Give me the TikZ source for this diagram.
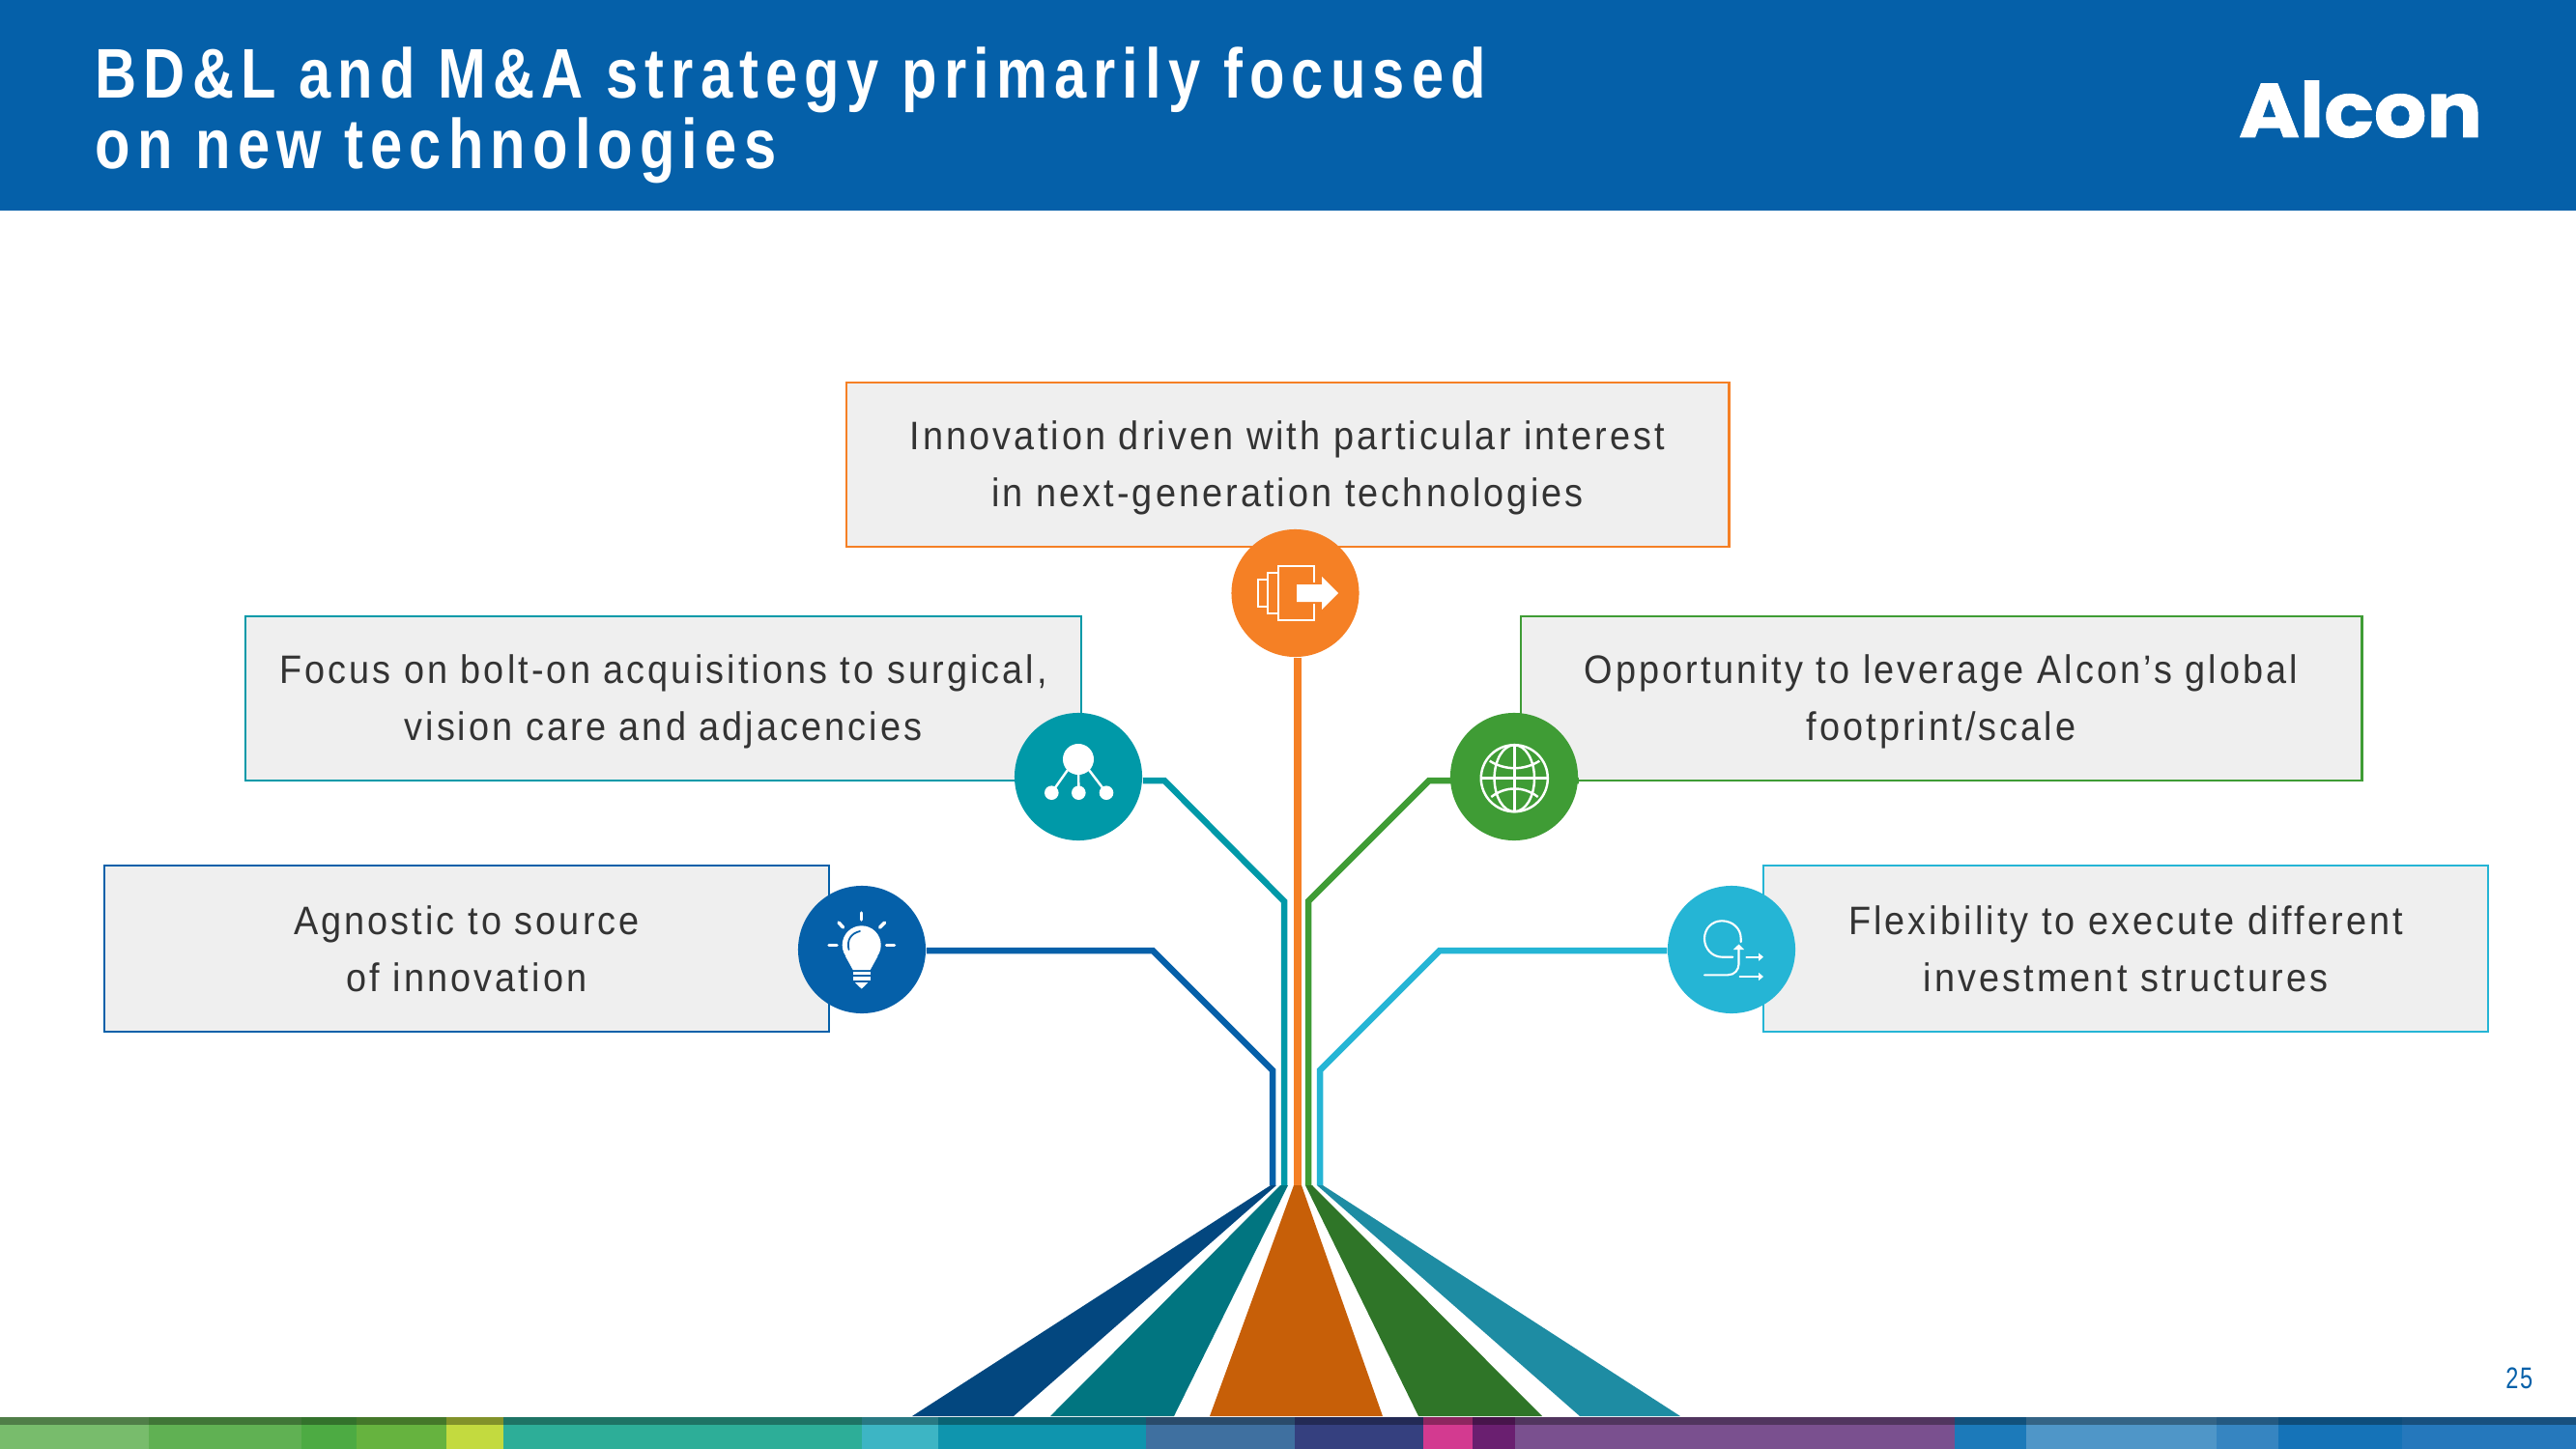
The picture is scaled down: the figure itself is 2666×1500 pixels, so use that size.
\documentclass[tikz,border=0pt]{standalone}
\usepackage{fontspec}
\usepackage{xcolor}
\usetikzlibrary{arrows.meta}
\setmainfont{Liberation Sans}
\newfontfamily\titlefont[LetterSpace=9.8,FakeStretch=0.82]{Liberation Sans}
\newfontfamily\bodyfont[LetterSpace=7.5,FakeStretch=0.92]{Liberation Sans}
\newfontfamily\logofont[FakeStretch=1.08,FakeBold=1]{Poppins}
\newfontfamily\pagefont[LetterSpace=6,FakeStretch=0.76]{Liberation Sans}
\definecolor{AlconBlue}{HTML}{0560A9}
\definecolor{AlconTeal}{HTML}{0099A8}
\definecolor{AlconOrange}{HTML}{F58025}
\definecolor{AlconGreen}{HTML}{3F9C35}
\definecolor{AlconCyan}{HTML}{25B5D5}
\definecolor{FanBlue}{HTML}{03477F}
\definecolor{FanTeal}{HTML}{017580}
\definecolor{FanOrange}{HTML}{C75F08}
\definecolor{FanGreen}{HTML}{2F7528}
\definecolor{FanCyan}{HTML}{1E8CA3}
\definecolor{BoxGrey}{HTML}{EFEFEF}
\definecolor{BodyText}{HTML}{333333}
\definecolor{StripA}{HTML}{78BC6C}
\definecolor{StripB}{HTML}{60B153}
\definecolor{StripC}{HTML}{4DAB43}
\definecolor{StripD}{HTML}{66B33F}
\definecolor{StripE}{HTML}{C3DA3F}
\definecolor{StripF}{HTML}{2DAE98}
\definecolor{StripG}{HTML}{3DB5C4}
\definecolor{StripH}{HTML}{0F95AE}
\definecolor{StripI}{HTML}{3F70A0}
\definecolor{StripJ}{HTML}{35407F}
\definecolor{StripK}{HTML}{D33A90}
\definecolor{StripL}{HTML}{6A1F70}
\definecolor{StripM}{HTML}{7A508F}
\definecolor{StripN}{HTML}{1C7ABA}
\definecolor{StripO}{HTML}{4F96C8}
\definecolor{StripP}{HTML}{3685C1}
\definecolor{StripQ}{HTML}{1573B8}
\definecolor{StripR}{HTML}{2578BC}
\newcommand{\lineup}{\rule{0pt}{10.2pt}}
\tikzset{
  infobox/.style={draw,line width=0.7pt,fill=BoxGrey,text=BodyText,align=center,inner sep=0pt,
    font=\bodyfont\fontsize{11.7}{16.8}\selectfont},
  iconcirc/.style={circle,minimum size=1.32cm,inner sep=0pt},
  branch/.style={line width=1.85pt},
  iconline/.style={white,line width=0.7pt},
  iconthin/.style={white,line width=0.6pt,line cap=round}
}
\begin{document}
\begin{tikzpicture}[x=0.01cm,y=-0.01cm]
\useasboundingbox (0,0) rectangle (2666,1500);
\fill[white] (0,0) rectangle (2666,1500);
% header
\fill[AlconBlue] (0,0) rectangle (2666,218);
\node[anchor=base west,inner sep=0pt,white,font=\titlefont\bfseries\fontsize{20.7}{20.8}\selectfont] (title) at (98,102) {BD\&L and M\&A strategy primarily focused};
\node[anchor=base west,inner sep=0pt,white,font=\titlefont\bfseries\fontsize{20.7}{20.8}\selectfont] (subtitle) at (98,175) {on new technologies};
\node[anchor=base,inner sep=0pt,white,font=\logofont\bfseries\fontsize{22.5}{24}\selectfont] (logo) at (2443,142) {Alcon};
% text boxes
\node[infobox,draw=AlconOrange,minimum width=9.13cm,minimum height=1.70cm] (boxtop) at (1332.5,481) {\lineup Innovation driven with particular interest\\in next-generation technologies};
\node[infobox,draw=AlconTeal,minimum width=8.65cm,minimum height=1.70cm] (boxfocus) at (686.5,723) {\lineup Focus on bolt-on acquisitions to surgical,\\vision care and adjacencies};
\node[infobox,draw=AlconBlue,minimum width=7.50cm,minimum height=1.72cm] (boxsource) at (483,982) {Agnostic to source\\of innovation};
\node[infobox,draw=AlconGreen,minimum width=8.70cm,minimum height=1.70cm] (boxglobal) at (2009,723) {\lineup Opportunity to leverage Alcon’s global\\footprint/scale};
\node[infobox,draw=AlconCyan,minimum width=7.50cm,minimum height=1.72cm] (boxflex) at (2200,982) {Flexibility to execute different\\investment structures};
% circles
\node[iconcirc,fill=AlconOrange] (circtop) at (1340.5,614) {};
\node[iconcirc,fill=AlconTeal] (circfocus) at (1116,804) {};
\node[iconcirc,fill=AlconBlue] (circsource) at (892,983) {};
\node[iconcirc,fill=AlconGreen] (circglobal) at (1567,804) {};
\node[iconcirc,fill=AlconCyan] (circflex) at (1792,983) {};
% bend points and roots
\coordinate (focusA) at (1205,808);
\coordinate (focusB) at (1329,933);
\coordinate (focusC) at (1329,1227);
\coordinate (sourceA) at (1193,984);
\coordinate (sourceB) at (1317,1108);
\coordinate (sourceC) at (1317,1227);
\coordinate (globalA) at (1479,808);
\coordinate (globalB) at (1354,933);
\coordinate (globalC) at (1354,1227);
\coordinate (flexA) at (1490,984);
\coordinate (flexB) at (1366,1108);
\coordinate (flexC) at (1366,1227);
\coordinate (topC) at (1343,1227);
% branches
\draw[branch,AlconOrange,line width=2.3pt] (circtop.south -| topC) -- (topC);
\draw[branch,AlconTeal] ([yshift=-0.04cm]circfocus.east) -- (focusA) -- (focusB) -- (focusC);
\draw[branch,AlconBlue] ([yshift=-0.01cm]circsource.east) -- (sourceA) -- (sourceB) -- (sourceC);
\draw[branch,AlconGreen] ([yshift=-0.04cm]circglobal.east) -- (globalA) -- (globalB) -- (globalC);
\draw[branch,AlconCyan] ([yshift=-0.01cm]circflex.west) -- (flexA) -- (flexB) -- (flexC);
% fans
\fill[FanBlue] (1315,1227) -- (1321,1227) -- (1049,1466) -- (944,1466) -- cycle;
\fill[FanTeal] (1325,1227) -- (1333,1227) -- (1215,1466) -- (1087,1466) -- cycle;
\fill[FanOrange] (1339,1227) -- (1347,1227) -- (1431,1466) -- (1252,1466) -- cycle;
\fill[FanGreen] (1351,1227) -- (1358,1227) -- (1596,1466) -- (1468,1466) -- cycle;
\fill[FanCyan] (1363,1227) -- (1369,1227) -- (1739,1466) -- (1635,1466) -- cycle;
% document icon
\draw[iconline] (1302,600) rectangle (1312,628);
\draw[iconline] (1312,593) rectangle (1323,635);
\draw[iconline] (1360,603) -- (1360,586) -- (1323,586) -- (1323,642) -- (1360,642) -- (1360,625);
\fill[white] (1342,605) -- (1368,605) -- (1368,597) -- (1385,614) -- (1368,631) -- (1368,623) -- (1342,623) -- cycle;
% network icon
\fill[white] (1116,786) circle [radius=0.16cm];
\fill[white] (1088.3,820.7) circle [radius=0.073cm];
\fill[white] (1116.3,820.7) circle [radius=0.073cm];
\fill[white] (1145,820.7) circle [radius=0.073cm];
\draw[iconline] (1105,797) -- (1088.3,820.7);
\draw[iconline] (1116.2,797) -- (1116.3,820.7);
\draw[iconline] (1127,797) -- (1145,820.7);
% globe icon
\draw[iconline] (1567.3,805.7) circle [radius=0.345cm];
\draw[iconline] (1567.3,805.7) ellipse [x radius=0.207cm,y radius=0.345cm];
\draw[iconline] (1567.3,771.2) -- (1567.3,840.2);
\draw[iconline] (1532.8,805.7) -- (1601.8,805.7);
\draw[iconline] (1541.7,787.7) .. controls (1558,797.7) and (1577,797.7) .. (1593.3,787.7);
\draw[iconline] (1543.3,825) .. controls (1558,813.6) and (1577,813.6) .. (1591.7,825);
% bulb icon
\fill[white] (891.7,978.3) circle [radius=0.2cm];
\fill[white] (875,990) -- (882.7,1004) -- (900.7,1004) -- (908.4,990) -- cycle;
\draw[AlconBlue,line width=0.5pt,line cap=round] (878.5,983) .. controls (876,973) and (881,966) .. (890,964);
\fill[white] (882.7,1005.5) rectangle (900.7,1009);
\fill[white] (882.7,1011) rectangle (900.7,1015);
\fill[white] (885,1017) -- (898.4,1017) -- (894.5,1021) -- (891.7,1023.5) -- (888.9,1021) -- cycle;
\draw[white,line width=1pt,line cap=round] (891.7,945) -- (891.7,952);
\draw[white,line width=1pt,line cap=round] (868,955) -- (872.5,960);
\draw[white,line width=1pt,line cap=round] (915.5,955) -- (910.5,960);
\draw[white,line width=1pt,line cap=round] (858,978.3) -- (866,978.3);
\draw[white,line width=1pt,line cap=round] (917.5,978.3) -- (925.5,978.3);
% paths icon
\draw[iconthin] (1793.3,990.7) -- (1782,990.7) .. controls (1772,990.7) and (1764,982) .. (1764,971.7) .. controls (1764,961) and (1772,953.3) .. (1782,953.3) .. controls (1793,953.3) and (1801.7,961) .. (1801.7,971.7) -- (1801.7,975);
\draw[iconthin,-{Triangle[length=0.055cm,width=0.11cm]}] (1764,1009.3) -- (1788.3,1009.3) .. controls (1795,1009.3) and (1799.5,1004) .. (1799.5,998) -- (1799.5,977.5);
\draw[iconthin,-{Triangle[length=0.05cm,width=0.08cm]}] (1807.3,990.7) -- (1825,990.7);
\draw[iconthin,-{Triangle[length=0.05cm,width=0.08cm]}] (1800.7,1011) -- (1825,1011);
% page number
\node[anchor=base east,inner sep=0pt,text=AlconBlue,font=\pagefont\fontsize{8.8}{10}\selectfont] (pagenum) at (2622,1437) {25};
% colour strip
\fill[StripA] (0,1467) rectangle (154,1500);
\fill[StripB] (154,1467) rectangle (312,1500);
\fill[StripC] (312,1467) rectangle (369,1500);
\fill[StripD] (369,1467) rectangle (462,1500);
\fill[StripE] (462,1467) rectangle (521,1500);
\fill[StripF] (521,1467) rectangle (892,1500);
\fill[StripG] (892,1467) rectangle (971,1500);
\fill[StripH] (971,1467) rectangle (1186,1500);
\fill[StripI] (1186,1467) rectangle (1340,1500);
\fill[StripJ] (1340,1467) rectangle (1473,1500);
\fill[StripK] (1473,1467) rectangle (1524,1500);
\fill[StripL] (1524,1467) rectangle (1568,1500);
\fill[StripM] (1568,1467) rectangle (2023,1500);
\fill[StripN] (2023,1467) rectangle (2097,1500);
\fill[StripO] (2097,1467) rectangle (2294,1500);
\fill[StripP] (2294,1467) rectangle (2358,1500);
\fill[StripQ] (2358,1467) rectangle (2486,1500);
\fill[StripR] (2486,1467) rectangle (2666,1500);
\fill[black,opacity=0.33] (0,1467) rectangle (2666,1475);
\end{tikzpicture}
\end{document}
